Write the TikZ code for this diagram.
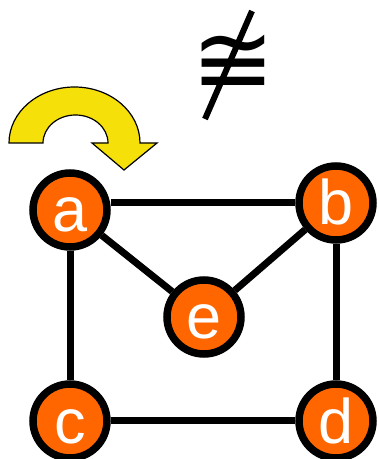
\documentclass[tikz,border=0pt]{standalone}
\usepackage{fontspec}
\setmainfont{Liberation Sans}
\newfontfamily\symfont{DejaVu Sans}
\usetikzlibrary{positioning}
\definecolor{gr-orange}{HTML}{FF6600}
\definecolor{gr-yellow}{HTML}{F5E00A}

\begin{document}
\begin{tikzpicture}[x=1pt,y=1pt,
  vertex/.style={circle, draw=black, line width=7.5pt, fill=gr-orange,
    minimum size=74pt, inner sep=0pt, text=white,
    font=\fontsize{63}{63}\selectfont, text height=44pt, text depth=0pt},
  edge/.style={line width=7pt}]
\useasboundingbox (0,0) rectangle (379,459);
\node[vertex] (a) at (70,249) {a};
\node[vertex] (b) at (336,256) {b};
\node[vertex] (e) at (204,142) {e};
\node[vertex] (c) at (70,38) {c};
\node[vertex] (d) at (336,38) {d};
\draw[edge] (a.east |- b) -- (b);
\draw[edge] (a) -- (e);
\draw[edge] (e) -- (b);
\draw[edge] (a) -- (c);
\draw[edge] (b) -- (d);
\draw[edge] (c) -- (d);
% turning arrow over a
\draw[fill=gr-yellow, line width=1.2pt, line join=miter]
  (9,316) arc[start angle=180, end angle=0, x radius=65.5, y radius=56]
  -- (157,316) -- (124,289) -- (92,316) -- (108,316)
  arc[start angle=0, end angle=180, x radius=32.5, y radius=28] -- cycle;
% not congruent: sign plus a long stroke through it
\node[font=\symfont\fontsize{100}{100}\selectfont] (cong) at (233,394) {≅};
\draw[line width=6pt] ([shift={(-28,-54)}]cong.center) -- ([shift={(19,54)}]cong.center);
\end{tikzpicture}
\end{document}
